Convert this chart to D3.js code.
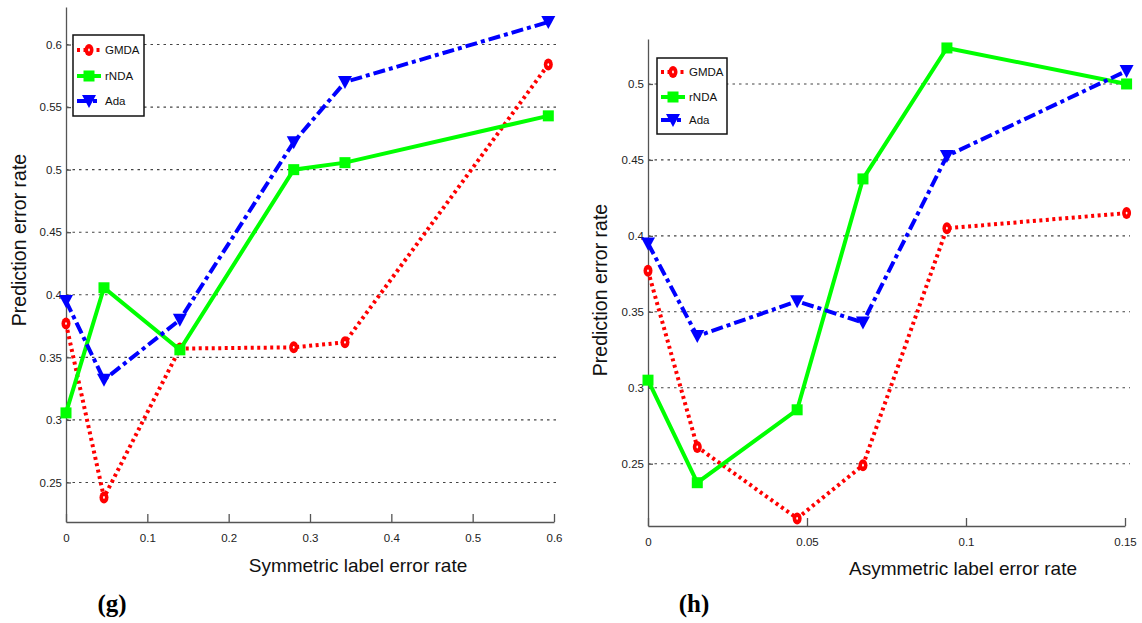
<!DOCTYPE html>
<html>
<head>
<meta charset="utf-8">
<script src="https://cdn.jsdelivr.net/npm/d3@7"></script>
<style>
  body { margin: 0; background: #fff; }
  svg { display: block; font-family: "Liberation Sans", Arial, sans-serif; }
  .axis path, .axis line { stroke: #555; stroke-width: 1.3; }
  .axis text { font-size: 11.5px; fill: #222; }
  .grid line { stroke: #444; stroke-width: 1.1; stroke-dasharray: 2.5,4; }
</style>
</head>
<body>
<svg id="chart" width="1142" height="623"></svg>
<script>
// (g) symmetric label noise
const symX = [0, 0.0467, 0.14, 0.28, 0.343, 0.593];
const symGMDA = [0.377, 0.238, 0.357, 0.358, 0.362, 0.584];
const symRNDA = [0.3056, 0.4056, 0.356, 0.5, 0.5056, 0.543];
const symAda = [0.395, 0.332, 0.38, 0.522, 0.570, 0.618];
const symXTicks = [0, 0.1, 0.2, 0.3, 0.4, 0.5, 0.6];
const symYTicks = [0.25, 0.3, 0.35, 0.4, 0.45, 0.5, 0.55, 0.6];

// (h) asymmetric label noise
const asymX = [0, 0.0155, 0.0469, 0.0676, 0.094, 0.1505];
const asymGMDA = [0.377, 0.261, 0.214, 0.249, 0.405, 0.415];
const asymRNDA = [0.305, 0.2375, 0.2855, 0.4375, 0.5237, 0.5];
const asymAda = [0.395, 0.334, 0.357, 0.343, 0.4526, 0.5086];
const asymXTicks = [0, 0.05, 0.1, 0.15];
const asymYTicks = [0.25, 0.3, 0.35, 0.4, 0.45, 0.5];

const methods = ["GMDA", "rNDA", "Ada"];

const svg = d3.select("#chart");

const styles = {
  GMDA: {color: "#ff0000", dash: "3,3.5"},
  rNDA: {color: "#00ff00", dash: null},
  Ada:  {color: "#0000ff", dash: "12,4,4,4"}
};

function marker(g, name, x, y) {
  const c = styles[name].color;
  if (name === "GMDA") {
    g.append("ellipse").attr("cx", x).attr("cy", y).attr("rx", 4.5).attr("ry", 6).attr("fill", c);
    g.append("ellipse").attr("cx", x).attr("cy", y).attr("rx", 0.9).attr("ry", 1.4).attr("fill", "#fff");
  } else if (name === "rNDA") {
    g.append("rect").attr("x", x - 5.5).attr("y", y - 5.5).attr("width", 11).attr("height", 11).attr("fill", c);
  } else {
    g.append("path").attr("d", `M${x - 7},${y - 6}L${x + 7},${y - 6}L${x},${y + 7}Z`).attr("fill", c);
  }
}

function panel(p) {
  const x = d3.scaleLinear().domain(p.xDomain).range(p.xRange);
  const y = d3.scaleLinear().domain(p.yDomain).range(p.yRange);
  const g = svg.append("g");

  // dotted grid
  g.append("g").attr("class", "grid").selectAll("line").data(p.yTicks).enter().append("line")
    .attr("x1", p.xRange[0]).attr("x2", p.gridEnd)
    .attr("y1", d => y(d)).attr("y2", d => y(d));

  g.append("g").attr("class", "axis")
    .attr("transform", `translate(0, ${p.yRange[0]})`)
    .call(d3.axisBottom(x).tickValues(p.xTicks).tickFormat(d => String(+d.toFixed(2)))
      .tickSizeInner(-8).tickSizeOuter(0).tickPadding(12));

  g.append("g").attr("class", "axis")
    .attr("transform", `translate(${p.xRange[0]}, 0)`)
    .call(d3.axisLeft(y).tickValues(p.yTicks).tickFormat(d => String(+d.toFixed(2)))
      .tickSizeInner(-5).tickSizeOuter(0).tickPadding(4));

  const series = {GMDA: p.gmda, rNDA: p.rnda, Ada: p.ada};
  methods.forEach(m => {
    const pts = p.xs.map((v, i) => [v, series[m][i]]);
    const line = d3.line().x(d => x(d[0])).y(d => y(d[1]));
    g.append("path").datum(pts).attr("d", line)
      .attr("fill", "none").attr("stroke", styles[m].color).attr("stroke-width", 4)
      .attr("stroke-dasharray", styles[m].dash).attr("stroke-linejoin", "miter");
    const mg = g.append("g");
    pts.forEach(d => marker(mg, m, x(d[0]), y(d[1])));
  });

  // legend
  const lg = g.append("g");
  lg.append("rect").attr("x", p.legend.x).attr("y", p.legend.y)
    .attr("width", p.legend.w).attr("height", p.legend.h)
    .attr("fill", "#fff").attr("stroke", "#111").attr("stroke-width", 1.5);
  methods.forEach((m, i) => {
    const ly = p.legend.rows[i];
    const lx = p.legend.x + 4;
    lg.append("line").attr("x1", lx).attr("x2", lx + 24).attr("y1", ly).attr("y2", ly)
      .attr("stroke", styles[m].color).attr("stroke-width", 4).attr("stroke-dasharray", styles[m].dash);
    marker(lg, m, lx + 12, ly);
    lg.append("text").attr("x", lx + 28).attr("y", ly).attr("dy", "0.35em")
      .attr("font-size", 11.5).attr("fill", "#111").text(m);
  });

  // titles
  g.append("text").attr("x", p.xTitle[0]).attr("y", p.xTitle[1]).attr("text-anchor", "middle")
    .attr("font-size", 19).attr("fill", "#111").text(p.xLabel);
  g.append("text").attr("transform", `translate(${p.yTitle[0]}, ${p.yTitle[1]}) rotate(-90)`)
    .attr("text-anchor", "middle").attr("dy", "0.35em")
    .attr("font-size", 19.5).attr("fill", "#111").text("Prediction error rate");
  g.append("text").attr("x", p.tag[0]).attr("y", p.tag[1]).attr("text-anchor", "middle")
    .attr("font-family", "'Liberation Serif', 'Times New Roman', serif").attr("font-weight", "bold")
    .attr("font-size", 25).attr("fill", "#000").text(p.tagText);
}

panel({
  xs: symX, gmda: symGMDA, rnda: symRNDA, ada: symAda,
  xTicks: symXTicks, yTicks: symYTicks,
  xDomain: [0, 0.6], xRange: [66, 554], gridEnd: 556,
  yDomain: [0.2184, 0.63], yRange: [522, 7],
  legend: {x: 73, y: 35, w: 71, h: 81, rows: [50, 76, 101]},
  xLabel: "Symmetric label error rate", xTitle: [358, 572],
  yTitle: [19, 240], tag: [112, 612], tagText: "(g)"
});

panel({
  xs: asymX, gmda: asymGMDA, rnda: asymRNDA, ada: asymAda,
  xTicks: asymXTicks, yTicks: asymYTicks,
  xDomain: [0, 0.15], xRange: [648, 1125], gridEnd: 1130,
  yDomain: [0.209, 0.5296], yRange: [526, 39],
  legend: {x: 657, y: 58, w: 70, h: 76, rows: [72, 97, 120]},
  xLabel: "Asymmetric label error rate", xTitle: [963, 575],
  yTitle: [600, 290], tag: [694, 612], tagText: "(h)"
});
</script>
</body>
</html>
